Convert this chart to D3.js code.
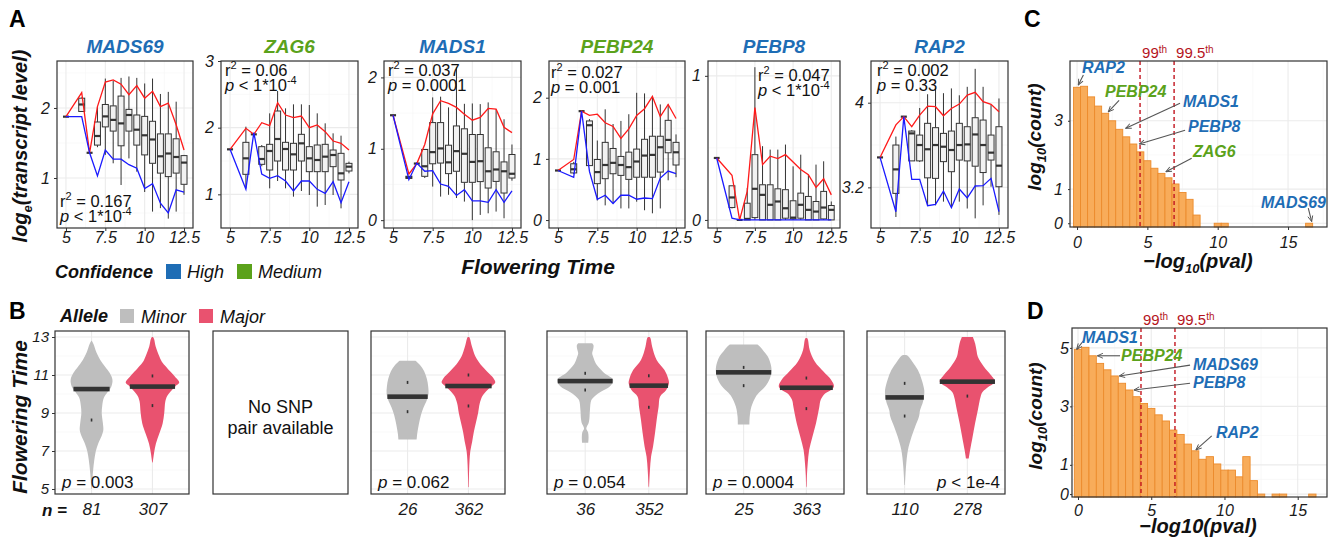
<!DOCTYPE html>
<html>
<head>
<meta charset="utf-8">
<script src="https://cdn.jsdelivr.net/npm/d3@7/dist/d3.min.js"></script>
<style>
html,body{margin:0;padding:0;background:#fff;}
svg{display:block;font-family:"Liberation Sans",Arial,Helvetica,sans-serif;}
</style>
</head>
<body>
<script>
// ================= DATA =================
// Panel A: flowering time bins
const ftX=[5,6,6.5,7,7.5,8,8.5,9,9.5,10,10.5,11,11.5,12,12.5];
const geneNames=['MADS69','ZAG6','MADS1','PEBP24','PEBP8','RAP2'];
const geneConfidence=['High','Medium','High','Medium','High','High'];
const geneR2=['0.167','0.06','0.037','0.027','0.047','0.002'];
const geneP=['< 1*10^-4','< 1*10^-4','= 0.0001','= 0.001','< 1*10^-4','= 0.33'];
const geneYTicks=[[1,2],[1,2,3],[0,1,2],[0,1,2],[0,1],[3.2,4]];
// box stats: [lower whisker, q1, median, q3, upper whisker]
const statsMADS69=[[1.876,1.876,1.876,1.876,1.876],[1.95,1.95,2.05,2.14,2.15],[1.36,1.36,1.36,1.36,1.36],[1.44,1.47,1.60,1.80,2.02],[1.33,1.73,1.88,2.05,2.42],[1.21,1.67,1.83,2.03,2.39],[0.90,1.46,1.78,2.17,2.43],[1.28,1.67,1.90,1.98,2.45],[1.09,1.47,1.69,1.90,2.43],[0.80,1.33,1.61,1.88,2.35],[0.52,1.21,1.55,1.81,2.42],[0.57,1.07,1.31,1.63,2.20],[0.42,1.02,1.35,1.63,2.23],[0.52,1.07,1.30,1.56,2.09],[0.76,0.91,1.22,1.32,1.33]];
const redMADS69=[1.876,2.22,1.36,2.02,2.37,2.40,2.34,2.19,2.32,2.14,2.24,2.02,2.07,1.76,1.40];
const blueMADS69=[1.876,1.876,1.36,1.03,1.40,1.27,1.27,1.19,1.14,0.85,0.92,0.64,0.50,0.83,0.80];

const statsZAG6=[[1.675,1.675,1.675,1.675,1.675],[1.09,1.30,1.54,1.78,2.015],[1.90,1.90,1.90,1.90,1.90],[1.42,1.45,1.53,1.715,1.74],[1.09,1.365,1.65,1.75,2.215],[1.20,1.50,1.83,2.25,2.55],[1.09,1.365,1.68,1.78,2.29],[0.965,1.365,1.60,1.765,2.35],[1.05,1.50,1.765,1.90,2.35],[0.99,1.34,1.54,1.715,2.34],[0.815,1.34,1.515,1.74,2.215],[0.84,1.34,1.565,1.75,2.065],[0.99,1.415,1.59,1.665,1.915],[0.79,1.215,1.315,1.615,1.88],[1.315,1.35,1.415,1.465,1.49]];
const redZAG6=[1.675,1.99,1.90,2.075,2.03,2.375,2.19,2.15,2.175,2.0,2.04,1.94,1.80,1.765,1.665];
const blueZAG6=[1.675,1.075,1.925,1.305,1.24,1.28,1.20,1.05,1.20,1.20,1.075,1.015,1.19,0.875,1.19];

const statsMADS1=[[1.47,1.47,1.47,1.47,1.47],[0.58,0.585,0.60,0.615,0.62],[0.793,0.793,0.793,0.793,0.793],[0.59,0.614,0.755,0.99,0.99],[0.47,0.79,0.953,1.367,1.72],[0.33,0.80,1.005,1.367,1.73],[0.355,0.652,0.81,1.05,1.58],[0.31,0.685,0.967,1.32,2.14],[0.26,0.53,0.93,1.28,1.63],[0.0,0.53,0.816,1.20,1.635],[0.073,0.54,0.826,1.20,1.626],[0.096,0.45,0.685,1.014,1.65],[0.12,0.543,0.71,0.958,1.555],[0.026,0.38,0.685,0.816,1.414],[0.553,0.59,0.65,0.92,1.06]];
const redMADS1=[1.47,0.647,0.793,1.06,1.49,1.673,1.635,1.58,1.485,1.40,1.44,1.565,1.555,1.30,1.226];
const blueMADS1=[1.47,0.567,0.80,0.685,0.694,0.506,0.473,0.346,0.426,0.27,0.27,0.25,0.426,0.25,0.41];

const statsPEBP24=[[0.81,0.81,0.81,0.81,0.81],[0.75,0.77,0.83,0.92,0.95],[1.78,1.78,1.78,1.78,1.78],[0.89,0.89,1.55,1.62,1.65],[0.32,0.595,0.784,0.99,1.30],[0.24,0.676,0.90,1.27,1.81],[0.27,0.757,0.935,1.17,1.57],[0.19,0.73,0.90,1.04,1.62],[0.19,0.665,0.865,1.11,1.73],[0.30,0.70,0.957,1.16,2.08],[0.16,0.70,1.054,1.32,2.07],[0.11,0.70,1.065,1.37,2.03],[0.19,0.784,1.19,1.37,1.89],[0.65,1.10,1.31,1.63,1.89],[0.70,0.90,1.108,1.27,1.40]];
const redPEBP24=[0.81,0.99,1.78,1.71,1.73,1.59,1.53,1.335,1.49,1.71,1.82,2.02,1.69,1.89,1.66];
const bluePEBP24=[0.81,0.70,1.78,0.795,0.34,0.405,0.27,0.405,0.405,0.34,0.36,0.35,0.686,0.80,0.757];

const statsPEBP8=[[0.43,0.43,0.43,0.43,0.43],[0.08,0.086,0.156,0.237,0.237],[0,0,0,0,0],[0,0,0.007,0.116,0.222],[0,0.016,0.216,0.453,1.06],[0,0,0.174,0.244,0.512],[0,0,0.105,0.244,0.488],[0,0,0.128,0.216,0.488],[0,0.012,0.081,0.21,0.523],[0,0.007,0.016,0.133,0.372],[0,0.012,0.105,0.186,0.453],[0,0,0.07,0.163,0.314],[0,0,0.058,0.128,0.384],[0,0.007,0.086,0.198,0.407],[0,0,0.07,0.10,0.128]];
const redPEBP8=[0.43,0.31,0,0.2,0.78,0.384,0.442,0.426,0.453,0.402,0.35,0.314,0.226,0.286,0.174];
const bluePEBP8=[0.43,0.012,0,0,0,0,0,0,0,0,0,0,0,0,0];

const statsRAP2=[[3.483,3.483,3.483,3.483,3.483],[2.92,3.143,3.37,3.60,3.68],[3.868,3.868,3.868,3.868,3.868],[3.45,3.45,3.71,3.732,3.74],[3.44,3.45,3.60,3.694,3.95],[3.03,3.29,3.56,3.805,4.08],[3.03,3.285,3.60,3.764,4.135],[3.065,3.443,3.584,3.71,4.09],[3.017,3.348,3.553,3.732,4.135],[3.065,3.458,3.60,3.805,4.07],[3.0,3.45,3.606,3.773,4.15],[2.907,3.40,3.70,3.858,4.32],[3.03,3.34,3.60,3.836,4.15],[3.206,3.458,3.528,3.694,3.98],[2.94,3.206,3.405,3.773,4.04]];
const redRAP2=[3.483,3.79,3.868,3.773,3.883,3.968,3.962,3.877,3.946,3.987,4.072,4.098,4.01,3.984,3.915];
const blueRAP2=[3.483,2.97,3.868,3.276,3.276,3.027,3.04,3.165,3.008,3.184,3.10,3.213,3.216,3.285,2.97];

// Panel B: violin profiles [flowering time, relative density width]
const alleleNames=['Minor','Major'];
const vio1Minor=[[12.8,0.01],[12.6,0.08],[12.2,0.18],[11.8,0.32],[11.45,0.5],[11.1,0.68],[10.75,0.78],[10.4,0.74],[10.1,0.6],[9.8,0.46],[9.4,0.4],[9.0,0.38],[8.5,0.42],[8.1,0.44],[7.8,0.38],[7.4,0.25],[7.0,0.16],[6.5,0.1],[6.0,0.06],[5.5,0.03],[5.0,0.01]];
const vio1Major=[[13.0,0.02],[12.9,0.06],[12.5,0.12],[12.0,0.25],[11.7,0.35],[11.45,0.5],[11.1,0.72],[10.9,0.85],[10.6,1.0],[10.4,0.85],[10.2,0.72],[9.9,0.55],[9.6,0.48],[9.0,0.44],[8.45,0.38],[7.9,0.25],[7.4,0.13],[6.9,0.06],[6.5,0.02],[6.4,0.01]];
const vio3Minor=[[11.75,0.3],[11.5,0.48],[11.2,0.62],[10.8,0.72],[10.4,0.77],[10.0,0.78],[9.6,0.7],[9.3,0.6],[8.9,0.5],[8.4,0.42],[7.9,0.36],[7.6,0.34]];
const vio3Major=[[13.0,0.03],[12.9,0.06],[12.5,0.13],[12.0,0.25],[11.7,0.38],[11.45,0.52],[11.1,0.75],[10.85,0.92],[10.6,1.0],[10.4,0.85],[10.2,0.7],[9.9,0.52],[9.5,0.42],[9.0,0.36],[8.5,0.28],[8.0,0.2],[7.5,0.14],[7.0,0.07],[6.5,0.04],[6.0,0.025],[5.5,0.015],[5.1,0.01]];
const vio4Minor=[[12.67,0.25],[12.55,0.3],[12.4,0.29],[12.14,0.25],[11.9,0.3],[11.61,0.38],[11.3,0.55],[11.09,0.69],[10.74,1.0],[10.39,0.88],[10.12,0.56],[9.9,0.35],[9.68,0.22],[9.16,0.17],[8.7,0.15],[8.46,0.12],[8.19,0.04],[8.0,0.1],[7.75,0.12],[7.44,0.11]];
const vio4Major=[[13.0,0.03],[12.93,0.06],[12.49,0.12],[11.79,0.28],[11.26,0.56],[10.82,0.69],[10.56,0.72],[10.21,0.62],[9.86,0.4],[9.33,0.35],[8.63,0.28],[7.93,0.22],[7.23,0.15],[6.7,0.08],[6.0,0.04],[5.12,0.01]];
const vio5Minor=[[12.6,0.5],[12.45,0.62],[12.3,0.7],[11.96,0.88],[11.44,1.0],[11.1,1.0],[10.82,0.95],[10.39,0.78],[10.1,0.58],[9.86,0.44],[9.33,0.28],[8.81,0.22],[8.39,0.21]];
const vio5Major=[[12.95,0.03],[12.84,0.06],[12.32,0.12],[11.7,0.31],[11.18,0.62],[10.74,0.9],[10.4,1.0],[10.2,0.88],[10.04,0.69],[9.7,0.52],[9.33,0.47],[8.46,0.35],[7.75,0.22],[7.05,0.1],[6.35,0.05],[5.7,0.02],[5.12,0.01]];
const vio6Minor=[[12.05,0.05],[12.0,0.12],[11.7,0.28],[11.26,0.48],[10.74,0.62],[10.21,0.71],[9.85,0.7],[9.51,0.65],[9.16,0.56],[8.81,0.52],[8.28,0.38],[7.75,0.25],[7.05,0.12],[6.18,0.05],[5.21,0.01]];
const vio6Major=[[13.0,0.2],[12.67,0.28],[12.3,0.33],[11.96,0.38],[11.44,0.6],[11.0,0.85],[10.65,1.0],[10.39,0.78],[10.1,0.55],[9.86,0.48],[9.16,0.38],[8.46,0.28],[7.75,0.19],[7.05,0.1],[6.61,0.05]];
const vioMedianMinor=[10.26,null,9.86,10.68,11.14,9.82];
const vioMedianMajor=[10.39,null,10.42,10.44,10.33,10.65];
const vioDotsMinor=[[8.63],null,[10.61,9.07],[11.09,10.21],[11.4,10.44],[10.56,8.84]];
const vioDotsMajor=[[10.95,9.39],null,[11.0,9.37],[10.96,9.3],[10.84,9.23],[9.89]];
const vioNMinor=[81,null,26,36,25,110];
const vioNMajor=[307,null,362,352,363,278];
const vioP=['= 0.003',null,'= 0.062','= 0.054','= 0.0004','< 1e-4'];
const yTicksB=[5,7,9,11,13];

// Panel C / D histograms: bin centres and log10(count)
const binsC=[0,0.5,1,1.5,2,2.5,3,3.5,4,4.5,5,5.5,6,6.5,7,7.5,8,8.5,10,10.5,16.5];
const logCountC=[3.98,4.01,3.70,3.43,3.22,3.0,2.75,2.53,2.32,2.09,1.83,1.61,1.46,1.33,1.15,0.9,0.70,0.24,0,0,0];
const binsD=[0,0.5,1,1.5,2,2.5,3,3.5,4,4.5,5,5.5,6,6.5,7,7.5,8,8.5,9,9.5,10,10.5,11,11.5,12,12.5,13.5,14,16];
const logCountD=[4.95,5.02,4.73,4.47,4.25,4.04,3.79,3.56,3.33,3.10,2.93,2.71,2.50,2.19,2.04,1.71,1.48,1.19,1.28,1.03,0.82,0.82,0.59,1.28,0.46,0,0,0,0];
const pctLabels=['99','99.5'];
const pctC=[4.48,6.9];
const pctD=[4.3,6.62];
const yTicksC=[0,1,3];
const yTicksD=[0,1,3,5];
const xTicksHist=[0,5,10,15];
const annGenesC=['RAP2','PEBP24','MADS1','PEBP8','ZAG6','MADS69'];
const annGenesD=['MADS1','PEBP24','MADS69','PEBP8','RAP2'];

// ================= LAYOUT / STYLE =================
const FONT='"Liberation Sans", Arial, Helvetica, sans-serif';
const BLUE='#1E6DB5', GREEN='#5BA21B';
const GRID='#EBEBEB', GRIDMIN='#F5F5F5', FRAME='#333333', TXT='#1a1a1a';
const confColor={High:BLUE,Medium:GREEN};
const layoutA=[
 {x0:57,x1:193,y0:61,y1:228,yDom:[0.286,2.671],sx:3,sy:146},
 {x0:221,x1:358,y0:61,y1:228,yDom:[0.495,3.0],sx:4,sy:15},
 {x0:384,x1:521,y0:61,y1:228,yDom:[-0.11,2.23],sx:4,sy:15},
 {x0:549,x1:685,y0:61,y1:228,yDom:[-0.13,2.6],sx:2,sy:17},
 {x0:708,x1:840,y0:61,y1:228,yDom:[-0.056,1.103],sx:50,sy:20},
 {x0:871,x1:1008,y0:61,y1:228,yDom:[2.816,4.394],sx:6,sy:15}
];
const xDomA=[4.43,13.07];
const layoutB=[[55,189],[213,348],[371,505],[547,687],[706,844],[867,1005]];
const B_Y0=331,B_Y1=494;

const svg=d3.select('body').append('svg').attr('width',1331).attr('height',542);
svg.append('rect').attr('width',1331).attr('height',542).attr('fill','#fff');
const defs=svg.append('defs');
defs.append('marker').attr('id','arr').attr('viewBox','0 0 10 10').attr('refX',9).attr('refY',5)
  .attr('markerWidth',7).attr('markerHeight',7).attr('markerUnits','userSpaceOnUse').attr('orient','auto')
  .append('path').attr('d','M1,1.5 L9,5 L1,8.5').attr('fill','none').attr('stroke','#555').attr('stroke-width',1.3);

function rich(g,x,y,parts,attr){
  const t=g.append('text').attr('x',x).attr('y',y);
  for(const k in (attr||{})) t.attr(k,attr[k]);
  let shift=0;
  parts.forEach(p=>{
    if(typeof p==='string') p={t:p};
    const s=t.append('tspan').text(p.t);
    let target=0;
    if(p.sup){target=-(p.sh||7);s.attr('font-size',p.fs||11);}
    if(p.sub){target=(p.sh||5);s.attr('font-size',p.fs||12);}
    if(target!==shift){s.attr('dy',target-shift);shift=target;}
    if(p.i) s.attr('font-style','italic');
    if(p.b) s.attr('font-weight','bold');
  });
  return t;
}
function styleAxis(ax,size){
  ax.select('.domain').remove();
  ax.attr('font-family',FONT).attr('font-size',size);
  ax.selectAll('.tick line').attr('stroke',FRAME);
  ax.selectAll('.tick text').attr('font-style','italic').attr('fill',TXT);
}
function pTextParts(s){
  const parts=[{t:'p',i:true},' '];
  const idx=s.indexOf('^');
  if(idx<0){parts.push(s);} else {parts.push(s.slice(0,idx));parts.push({t:s.slice(idx+1),sup:true,fs:11,sh:7});}
  return parts;
}

// ================= PANEL A =================
const statsA=[statsMADS69,statsZAG6,statsMADS1,statsPEBP24,statsPEBP8,statsRAP2];
const redA=[redMADS69,redZAG6,redMADS1,redPEBP24,redPEBP8,redRAP2];
const blueA=[blueMADS69,blueZAG6,blueMADS1,bluePEBP24,bluePEBP8,blueRAP2];

geneNames.forEach((name,gi)=>{
  const L=layoutA[gi];
  const x=d3.scaleLinear().domain(xDomA).range([L.x0,L.x1]);
  const y=d3.scaleLinear().domain(L.yDom).range([L.y1,L.y0]);
  const g=svg.append('g');
  const clipId='clipA'+gi;
  defs.append('clipPath').attr('id',clipId).append('rect').attr('x',L.x0).attr('y',L.y0).attr('width',L.x1-L.x0).attr('height',L.y1-L.y0);
  const yt=geneYTicks[gi];
  const step=yt[1]-yt[0];
  const yMin=[];
  for(let v=yt[0]-step/2; v<=L.yDom[1]; v+=step){ if(v>=L.yDom[0]) yMin.push(v);}
  const xMaj=[5,7.5,10,12.5], xMin=[6.25,8.75,11.25];
  const gg=g.append('g').attr('clip-path',`url(#${clipId})`);
  gg.selectAll('.ymin').data(yMin).join('line').attr('x1',L.x0).attr('x2',L.x1).attr('y1',d=>y(d)).attr('y2',d=>y(d)).attr('stroke',GRIDMIN).attr('stroke-width',0.6);
  gg.selectAll('.xmin').data(xMin).join('line').attr('y1',L.y0).attr('y2',L.y1).attr('x1',d=>x(d)).attr('x2',d=>x(d)).attr('stroke',GRIDMIN).attr('stroke-width',0.6);
  gg.selectAll('.ymaj').data(yt).join('line').attr('x1',L.x0).attr('x2',L.x1).attr('y1',d=>y(d)).attr('y2',d=>y(d)).attr('stroke',GRID).attr('stroke-width',1.1);
  gg.selectAll('.xmaj').data(xMaj).join('line').attr('y1',L.y0).attr('y2',L.y1).attr('x1',d=>x(d)).attr('x2',d=>x(d)).attr('stroke',GRID).attr('stroke-width',1.1);

  const bx=gg.append('g');
  statsA[gi].forEach((s,i)=>{
    const cx=x(ftX[i]);
    const hw=x(ftX[i]+0.19)-x(ftX[i]);
    bx.append('line').attr('x1',cx).attr('x2',cx).attr('y1',y(s[0])).attr('y2',y(s[1])).attr('stroke',FRAME).attr('stroke-width',1);
    bx.append('line').attr('x1',cx).attr('x2',cx).attr('y1',y(s[3])).attr('y2',y(s[4])).attr('stroke',FRAME).attr('stroke-width',1);
    bx.append('rect').attr('x',cx-hw).attr('y',y(s[3])).attr('width',2*hw).attr('height',Math.max(0,y(s[1])-y(s[3])))
      .attr('fill','#F2F2F2').attr('stroke',FRAME).attr('stroke-width',1);
    bx.append('line').attr('x1',cx-hw).attr('x2',cx+hw).attr('y1',y(s[2])).attr('y2',y(s[2])).attr('stroke',FRAME).attr('stroke-width',2.2);
  });
  const line=d3.line().x((d,i)=>x(ftX[i])).y(d=>y(d));
  gg.append('path').attr('d',line(redA[gi])).attr('fill','none').attr('stroke','#FF1A1A').attr('stroke-width',1.3);
  gg.append('path').attr('d',line(blueA[gi])).attr('fill','none').attr('stroke','#1A1AFF').attr('stroke-width',1.3);

  g.append('rect').attr('x',L.x0).attr('y',L.y0).attr('width',L.x1-L.x0).attr('height',L.y1-L.y0).attr('fill','none').attr('stroke',FRAME).attr('stroke-width',1.2);

  const ax=g.append('g').attr('transform',`translate(0,${L.y1})`)
    .call(d3.axisBottom(x).tickValues(xMaj).tickFormat(d=>String(d)).tickSize(3).tickSizeOuter(0).tickPadding(1));
  styleAxis(ax,16);
  const ay=g.append('g').attr('transform',`translate(${L.x0},0)`)
    .call(d3.axisLeft(y).tickValues(yt).tickFormat(d=>String(d)).tickSize(3).tickSizeOuter(0).tickPadding(4));
  styleAxis(ay,16);

  g.append('text').attr('x',(L.x0+L.x1)/2).attr('y',53).attr('text-anchor','middle')
    .attr('font-size',19).attr('font-weight','bold').attr('font-style','italic')
    .attr('fill',confColor[geneConfidence[gi]]).text(name);
  rich(g,L.x0+L.sx,L.y0+L.sy,['r',{t:'2',sup:true,fs:11,sh:7},' = '+geneR2[gi]],{'font-size':16.5,fill:'#111'});
  rich(g,L.x0+L.sx,L.y0+L.sy+15,pTextParts(geneP[gi]),{'font-size':16.5,fill:'#111'});
});

svg.append('text').attr('x',9).attr('y',27).attr('font-size',23).attr('font-weight','bold').text('A');
rich(svg,0,0,[{t:'log'},{t:'e',sub:true,fs:13,sh:5},{t:'(transcript level)'}],
  {'font-size':20,'font-weight':'bold','font-style':'italic','text-anchor':'middle',transform:'translate(27,146) rotate(-90)',fill:'#111'});
svg.append('text').attr('x',538).attr('y',274).attr('text-anchor','middle').attr('font-size',21)
  .attr('font-weight','bold').attr('font-style','italic').attr('fill','#111').text('Flowering Time');
const legA=svg.append('g');
legA.append('text').attr('x',55).attr('y',278).attr('font-size',18).attr('font-weight','bold').attr('font-style','italic').attr('fill','#111').text('Confidence');
const confLevels=['High','Medium'];
const confLegX=[166,237];
confLevels.forEach((c,i)=>{
  legA.append('rect').attr('x',confLegX[i]).attr('y',264).attr('width',15).attr('height',15).attr('fill',confColor[c]);
  legA.append('text').attr('x',confLegX[i]+21).attr('y',278).attr('font-size',18).attr('font-style','italic').attr('fill','#111').text(c);
});

// ================= PANEL B =================
const vioMinor=[vio1Minor,null,vio3Minor,vio4Minor,vio5Minor,vio6Minor];
const vioMajor=[vio1Major,null,vio3Major,vio4Major,vio5Major,vio6Major];
const alleleColor={Minor:'#BEBEBE',Major:'#E9526F'};
const yB=d3.scaleLinear().domain([4.737,13.316]).range([B_Y1,B_Y0]);
function widthAt(prof,v){
  for(let i=0;i<prof.length-1;i++){
    const a=prof[i],b=prof[i+1];
    if(v<=a[0]&&v>=b[0]){const t=(a[0]-v)/(a[0]-b[0]);return a[1]+(b[1]-a[1])*t;}
  }
  return 0;
}
layoutB.forEach((lb,pi)=>{
  const [x0,x1]=lb;
  const g=svg.append('g');
  const xB=d3.scaleLinear().domain([0.4,2.6]).range([x0,x1]);
  if(vioMinor[pi]===null){
    g.append('rect').attr('x',x0).attr('y',B_Y0).attr('width',x1-x0).attr('height',B_Y1-B_Y0).attr('fill','#fff').attr('stroke',FRAME).attr('stroke-width',1.2);
    g.append('text').attr('x',(x0+x1)/2).attr('y',413).attr('text-anchor','middle').attr('font-size',18).attr('fill','#111').text('No SNP');
    g.append('text').attr('x',(x0+x1)/2).attr('y',434).attr('text-anchor','middle').attr('font-size',18).attr('fill','#111').text('pair available');
    return;
  }
  const yMinB=[6,8,10,12];
  g.selectAll('.ymin').data(yMinB).join('line').attr('x1',x0).attr('x2',x1).attr('y1',d=>yB(d)).attr('y2',d=>yB(d)).attr('stroke',GRIDMIN).attr('stroke-width',0.6);
  g.selectAll('.ymaj').data(yTicksB).join('line').attr('x1',x0).attr('x2',x1).attr('y1',d=>yB(d)).attr('y2',d=>yB(d)).attr('stroke',GRID).attr('stroke-width',1.1);
  g.selectAll('.xmaj').data([1,2]).join('line').attr('y1',B_Y0).attr('y2',B_Y1).attr('x1',d=>xB(d)).attr('x2',d=>xB(d)).attr('stroke',GRID).attr('stroke-width',1.1);
  const hwScale=d3.scaleLinear().domain([0,1]).range([0,xB(1.44)-xB(1)]);
  const sets=[
    {prof:vioMinor[pi],pos:1,col:alleleColor.Minor,med:vioMedianMinor[pi],dots:vioDotsMinor[pi]},
    {prof:vioMajor[pi],pos:2,col:alleleColor.Major,med:vioMedianMajor[pi],dots:vioDotsMajor[pi]}
  ];
  sets.forEach(s=>{
    const cx=xB(s.pos);
    const area=d3.area().curve(d3.curveCatmullRom.alpha(0.5))
      .x0(d=>cx-hwScale(d[1])).x1(d=>cx+hwScale(d[1])).y(d=>yB(d[0]));
    g.append('path').attr('d',area(s.prof)).attr('fill',s.col).attr('stroke','none');
    const w=hwScale(widthAt(s.prof,s.med));
    g.append('rect').attr('x',cx-w).attr('y',yB(s.med)-2.3).attr('width',2*w).attr('height',4.6).attr('fill','#333');
    s.dots.forEach(dv=>{
      g.append('rect').attr('x',cx-0.8).attr('y',yB(dv)-1.5).attr('width',1.6).attr('height',3).attr('fill','#333');
    });
  });
  g.append('rect').attr('x',x0).attr('y',B_Y0).attr('width',x1-x0).attr('height',B_Y1-B_Y0).attr('fill','none').attr('stroke',FRAME).attr('stroke-width',1.2);
  const nLab=[vioNMinor[pi],vioNMajor[pi]];
  const ax=g.append('g').attr('transform',`translate(0,${B_Y1})`)
    .call(d3.axisBottom(xB).tickValues([1,2]).tickFormat((d,i)=>String(nLab[i])).tickSize(3).tickSizeOuter(0).tickPadding(6));
  styleAxis(ax,17);
  ax.selectAll('.tick line').attr('stroke','none');
  if(pi===0){
    const ay=g.append('g').attr('transform',`translate(${x0},0)`)
      .call(d3.axisLeft(yB).tickValues(yTicksB).tickFormat(d=>String(d)).tickSize(3).tickSizeOuter(0).tickPadding(3));
    styleAxis(ay,15);
  }
  const right=(pi===5);
  rich(g,right?x1-5:x0+7,488,pTextParts(vioP[pi]),{'font-size':17,fill:'#111','text-anchor':right?'end':'start'});
});
svg.append('text').attr('x',9).attr('y',319).attr('font-size',23).attr('font-weight','bold').text('B');
svg.append('text').attr('text-anchor','middle').attr('transform','translate(27,417) rotate(-90)')
  .attr('font-size',21).attr('font-weight','bold').attr('font-style','italic').attr('fill','#111').text('Flowering Time');
svg.append('text').attr('x',67).attr('y',516).attr('text-anchor','end').attr('font-size',17).attr('font-weight','bold').attr('font-style','italic').attr('fill','#111').text('n =');
const legB=svg.append('g');
legB.append('text').attr('x',60).attr('y',322).attr('font-size',18).attr('font-weight','bold').attr('font-style','italic').attr('fill','#111').text('Allele');
const alleleLegX=[120,199];
alleleNames.forEach((a,i)=>{
  legB.append('rect').attr('x',alleleLegX[i]).attr('y',309).attr('width',14).attr('height',14).attr('fill',alleleColor[a]);
  legB.append('text').attr('x',alleleLegX[i]+21).attr('y',323).attr('font-size',18).attr('font-style','italic').attr('fill','#111').text(a);
});

// ================= PANELS C, D =================
function drawHist(cfg){
  const {x0,x1,y0,y1,xDom,yDom,bins,vals,pct,yTicks,ann,ytPad,xtPad}=cfg;
  const x=d3.scaleLinear().domain(xDom).range([x0,x1]);
  const y=d3.scaleLinear().domain(yDom).range([y1,y0]);
  const g=svg.append('g');
  const xMin=[2.5,7.5,12.5,17.5].filter(v=>v<xDom[1]);
  const yMin=[];
  for(let i=0;i<yTicks.length-1;i++) yMin.push((yTicks[i]+yTicks[i+1])/2);
  g.selectAll('.xmin').data(xMin).join('line').attr('y1',y0).attr('y2',y1).attr('x1',d=>x(d)).attr('x2',d=>x(d)).attr('stroke',GRIDMIN).attr('stroke-width',0.6);
  g.selectAll('.ymin').data(yMin).join('line').attr('x1',x0).attr('x2',x1).attr('y1',d=>y(d)).attr('y2',d=>y(d)).attr('stroke',GRIDMIN).attr('stroke-width',0.6);
  g.selectAll('.xmaj').data(xTicksHist).join('line').attr('y1',y0).attr('y2',y1).attr('x1',d=>x(d)).attr('x2',d=>x(d)).attr('stroke',GRID).attr('stroke-width',1.1);
  g.selectAll('.ymaj').data(yTicks).join('line').attr('x1',x0).attr('x2',x1).attr('y1',d=>y(d)).attr('y2',d=>y(d)).attr('stroke',GRID).attr('stroke-width',1.1);
  g.selectAll('.bar').data(bins).join('rect')
    .attr('x',d=>x(d-0.25)).attr('width',d=>x(d+0.25)-x(d-0.25))
    .attr('y',(d,i)=>y(vals[i])).attr('height',(d,i)=>y1-y(vals[i]))
    .attr('fill','#F8AC5A').attr('stroke','#EC8B2C').attr('stroke-width',0.9);
  pct.forEach((p,i)=>{
    g.append('line').attr('x1',x(p)).attr('x2',x(p)).attr('y1',y0).attr('y2',y1)
      .attr('stroke','#C2151F').attr('stroke-width',1.4).attr('stroke-dasharray','4,3');
    rich(g,x(p)+2,y0-3,[pctLabels[i],{t:'th',sup:true,fs:10,sh:5}],{'font-size':15,fill:'#B5141D'});
  });
  g.append('rect').attr('x',x0).attr('y',y0).attr('width',x1-x0).attr('height',y1-y0).attr('fill','none').attr('stroke',FRAME).attr('stroke-width',1.2);
  const ax=g.append('g').attr('transform',`translate(0,${y1})`)
    .call(d3.axisBottom(x).tickValues(xTicksHist).tickFormat(d=>String(d)).tickSize(3).tickSizeOuter(0).tickPadding(xtPad));
  styleAxis(ax,16);
  const ay=g.append('g').attr('transform',`translate(${x0},0)`)
    .call(d3.axisLeft(y).tickValues(yTicks).tickFormat(d=>String(d)).tickSize(2).tickSizeOuter(0).tickPadding(ytPad));
  styleAxis(ay,16);
  ann.forEach(a=>{
    g.append('line').attr('x1',x(a.ax1)).attr('y1',y(a.ay1)).attr('x2',x(a.ax2)).attr('y2',y(a.ay2))
      .attr('stroke','#555').attr('stroke-width',1.1).attr('marker-end','url(#arr)');
    g.append('text').attr('x',x(a.tx)).attr('y',y(a.ty)).attr('font-size',16).attr('font-weight','bold').attr('font-style','italic')
      .attr('fill',confColor[geneConfidence[geneNames.indexOf(a.gene)]]).text(a.gene);
  });
}
const annPosC=[
  {tx:0.36,ty:4.39,ax1:0.45,ay1:4.34,ax2:0.09,ay2:4.05},
  {tx:1.99,ty:3.69,ax1:2.99,ay1:3.6,ax2:2.22,ay2:3.26},
  {tx:7.53,ty:3.4,ax1:7.32,ay1:3.51,ax2:3.46,ay2:2.78},
  {tx:7.89,ty:2.66,ax1:7.68,ay1:2.72,ax2:4.43,ay2:2.32},
  {tx:8.24,ty:1.94,ax1:8.15,ay1:1.9,ax2:6.32,ay2:1.51},
  {tx:13.08,ty:0.44,ax1:16.44,ay1:0.44,ax2:16.68,ay2:0.05}
];
const annPosD=[
  {tx:0.27,ty:5.17,ax1:0.41,ay1:5.27,ax2:-0.09,ay2:4.95},
  {tx:2.94,ty:4.55,ax1:2.87,ay1:4.73,ax2:1.32,ay2:4.73},
  {tx:7.85,ty:4.25,ax1:7.65,ay1:4.41,ax2:2.82,ay2:4.04},
  {tx:7.85,ty:3.63,ax1:7.65,ay1:3.79,ax2:3.82,ay2:3.56},
  {tx:9.42,ty:1.92,ax1:9.13,ay1:1.99,ax2:8.05,ay2:1.51}
];
drawHist({x0:1070,x1:1327,y0:61,y1:227,xDom:[-0.5,17.77],yDom:[-0.11,4.75],bins:binsC,vals:logCountC,pct:pctC,yTicks:yTicksC,
  ann:annGenesC.map((gn,i)=>Object.assign({gene:gn},annPosC[i])),ytPad:5,xtPad:7});
drawHist({x0:1072,x1:1327,y0:328,y1:497,xDom:[-0.41,17.0],yDom:[-0.1,5.68],bins:binsD,vals:logCountD,pct:pctD,yTicks:yTicksD,
  ann:annGenesD.map((gn,i)=>Object.assign({gene:gn},annPosD[i])),ytPad:1,xtPad:5});

svg.append('text').attr('x',1024).attr('y',27).attr('font-size',23).attr('font-weight','bold').text('C');
svg.append('text').attr('x',1027).attr('y',319).attr('font-size',23).attr('font-weight','bold').text('D');
rich(svg,0,0,['log',{t:'10',sub:true,fs:13,sh:5},'(count)'],
  {'font-size':19,'font-weight':'bold','font-style':'italic','text-anchor':'middle',transform:'translate(1041,137) rotate(-90)',fill:'#111'});
rich(svg,0,0,['log',{t:'10',sub:true,fs:13,sh:5},'(count)'],
  {'font-size':19,'font-weight':'bold','font-style':'italic','text-anchor':'middle',transform:'translate(1042,416) rotate(-90)',fill:'#111'});
rich(svg,1198,268,['\u2212log',{t:'10',sub:true,fs:13,sh:5},'(pval)'],
  {'font-size':20,'font-weight':'bold','font-style':'italic','text-anchor':'middle',fill:'#111'});
svg.append('text').attr('x',1198).attr('y',533).attr('text-anchor','middle').attr('font-size',20)
  .attr('font-weight','bold').attr('font-style','italic').attr('fill','#111').text('\u2212log10(pval)');
</script>
</body>
</html>
